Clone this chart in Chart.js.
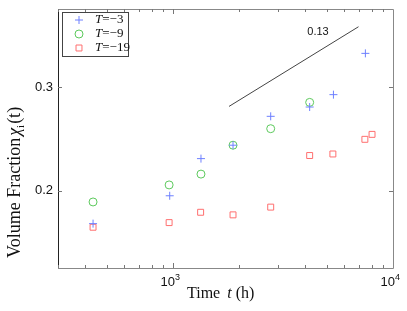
<!DOCTYPE html>
<html>
<head>
<meta charset="utf-8">
<script src="https://cdn.jsdelivr.net/npm/chart.js@4.4.0/dist/chart.umd.min.js"></script>
<style>
  html, body { margin: 0; padding: 0; background: #fff; }
  #wrap { width: 407px; height: 311px; }
</style>
</head>
<body>
<div id="wrap"><canvas id="chart" width="407" height="311"></canvas></div>
<script>
// time (h) and volume fraction
const timeA = [433, 966, 1340, 1874, 2780, 4180, 5360, 7490];
const chiA = [0.168, 0.195, 0.231, 0.244, 0.272, 0.281, 0.293, 0.333];

const timeB = [433, 960, 1340, 1874, 2780, 4180];
const chiB = [0.189, 0.2055, 0.216, 0.244, 0.260, 0.2855];

const timeC = [433, 960, 1335, 1874, 2780, 4180, 5330, 7450, 8030];
const chiC = [0.1645, 0.169, 0.179, 0.1765, 0.184, 0.234, 0.2355, 0.2497, 0.2545];

// guide line with slope label
const guideT = [1797, 6970];
const guideChi = [0.2816, 0.3588];
const guideLabel = '0.13';

const seriesNames = ['3', '9', '19'];
const yTicks = [0.2, 0.3];
const xMajor = [1000, 10000];

const blue = '#6e80ff';
const green = '#5cc95c';
const red = '#ff6f6f';

function pts(xs, ys) {
    return xs.map((x, i) => ({ x: x, y: ys[i] }));
}

const frame = {
    id: 'frame',
    afterDatasetsDraw(chart) {
        const ctx = chart.ctx;
        const a = chart.chartArea;
        const xs = chart.scales.x;
        const ys = chart.scales.y;
        const serif = '"Liberation Serif", "Times New Roman", serif';
        ctx.save();

        // box
        ctx.lineWidth = 1;
        ctx.strokeStyle = '#222';
        ctx.beginPath();
        ctx.moveTo(a.left + 0.5, a.top);
        ctx.lineTo(a.left + 0.5, a.bottom + 0.5);
        ctx.stroke();
        ctx.strokeStyle = '#888';
        ctx.beginPath();
        ctx.moveTo(a.left, a.bottom + 0.5);
        ctx.lineTo(a.right + 0.5, a.bottom + 0.5);
        ctx.lineTo(a.right + 0.5, a.top + 0.5);
        ctx.lineTo(a.left, a.top + 0.5);
        ctx.stroke();

        // log ticks on x, top and bottom
        ctx.strokeStyle = '#777';
        for (let d = 100; d < 10000; d *= 10) {
            for (let m = 1; m < 10; m++) {
                const v = d * m;
                if (v < xs.min || v > xs.max) continue;
                const px = Math.round(xs.getPixelForValue(v)) + 0.5;
                const len = m === 1 ? 5 : 3;
                ctx.beginPath();
                ctx.moveTo(px, a.bottom);
                ctx.lineTo(px, a.bottom - len);
                ctx.moveTo(px, a.top);
                ctx.lineTo(px, a.top + len);
                ctx.stroke();
            }
        }
        // y ticks, both sides
        yTicks.forEach(v => {
            const py = Math.round(ys.getPixelForValue(v)) + 0.5;
            ctx.beginPath();
            ctx.moveTo(a.left, py);
            ctx.lineTo(a.left + 4, py);
            ctx.moveTo(a.right, py);
            ctx.lineTo(a.right - 4, py);
            ctx.stroke();
        });

        ctx.fillStyle = '#111';
        // y tick labels
        ctx.font = '13px "Liberation Sans", Arial, sans-serif';
        ctx.textAlign = 'right';
        ctx.textBaseline = 'middle';
        yTicks.forEach(v => {
            ctx.fillText(v.toFixed(1), a.left - 5, ys.getPixelForValue(v));
        });
        // x tick labels 10^n
        xMajor.forEach(v => {
            const px = xs.getPixelForValue(v);
            const exp = String(Math.round(Math.log10(v)));
            ctx.font = '13px "Liberation Sans", Arial, sans-serif';
            ctx.textAlign = 'right';
            ctx.textBaseline = 'alphabetic';
            ctx.fillText('10', px + 2, a.bottom + 18);
            ctx.font = '9px "Liberation Sans", Arial, sans-serif';
            ctx.textAlign = 'left';
            ctx.fillText(exp, px + 2, a.bottom + 12);
        });

        // x title
        ctx.textBaseline = 'alphabetic';
        ctx.textAlign = 'left';
        let tx = 187;
        const ty = 298;
        ctx.font = '16px ' + serif;
        ctx.fillText('Time', tx, ty);
        tx += ctx.measureText('Time ').width + 3;
        ctx.font = 'italic 16px ' + serif;
        ctx.fillText('t', tx, ty);
        tx += ctx.measureText('t ').width;
        ctx.font = '16px ' + serif;
        ctx.fillText('(h)', tx, ty);

        // y title, rotated
        ctx.save();
        ctx.translate(20, 258);
        ctx.rotate(-Math.PI / 2);
        let yx = 0;
        ctx.font = '18px ' + serif;
        ctx.fillText('Volume Fraction', yx, 0);
        yx += ctx.measureText('Volume Fraction').width + 2;
        ctx.font = 'italic 18px ' + serif;
        ctx.fillText('\u03c7', yx, 0);
        yx += ctx.measureText('\u03c7').width;
        ctx.font = '11px ' + serif;
        ctx.fillText('i', yx, 4);
        yx += ctx.measureText('i').width + 1;
        ctx.font = '18px ' + serif;
        ctx.fillText('(t)', yx, 0);
        ctx.restore();

        // guide label
        ctx.font = '11px "Liberation Sans", Arial, sans-serif';
        ctx.textAlign = 'center';
        ctx.textBaseline = 'middle';
        ctx.fillText(guideLabel, 318, 32);

        // legend
        ctx.strokeStyle = '#444';
        ctx.lineWidth = 1;
        ctx.strokeRect(62.5, 12.5, 66, 44);
        const colors = [blue, green, red];
        const styles = ['cross', 'circle', 'rect'];
        const rows = [20, 34, 48];
        rows.forEach((ry, i) => {
            ctx.strokeStyle = colors[i];
            ctx.fillStyle = 'rgba(0,0,0,0)';
            Chart.helpers.drawPoint(ctx, {
                pointStyle: styles[i], radius: i === 2 ? 4.2 : 4, borderWidth: 1
            }, 79, ry);
        });
        ctx.fillStyle = '#111';
        ctx.textAlign = 'left';
        ctx.textBaseline = 'middle';
        rows.forEach((ry, i) => {
            let lx = 95;
            ctx.font = 'italic 13px ' + serif;
            ctx.fillText('T', lx, ry);
            lx += ctx.measureText('T').width;
            ctx.font = '13px ' + serif;
            ctx.fillText('=\u2212' + seriesNames[i], lx, ry);
        });
        ctx.restore();
    }
};

new Chart(document.getElementById('chart'), {
    type: 'scatter',
    data: {
        datasets: [
            {
                label: 'T=-3', data: pts(timeA, chiA),
                pointStyle: 'cross', radius: 4, borderColor: blue, borderWidth: 1,
                backgroundColor: 'transparent'
            },
            {
                label: 'T=-9', data: pts(timeB, chiB),
                pointStyle: 'circle', radius: 4, borderColor: green, borderWidth: 1,
                backgroundColor: 'transparent'
            },
            {
                label: 'T=-19', data: pts(timeC, chiC),
                pointStyle: 'rect', radius: 4.2, borderColor: red, borderWidth: 1,
                backgroundColor: 'transparent'
            },
            {
                type: 'line', label: 'guide', data: pts(guideT, guideChi),
                borderColor: '#444', borderWidth: 1, pointRadius: 0, fill: false
            }
        ]
    },
    options: {
        responsive: false,
        animation: false,
        layout: { padding: { left: 58, right: 14, top: 9, bottom: 43 } },
        plugins: { legend: { display: false }, tooltip: { enabled: false } },
        scales: {
            x: {
                type: 'logarithmic', min: 300, max: 10000,
                grid: { display: false }, ticks: { display: false },
                border: { display: false },
                afterFit(s) { s.height = 0; }
            },
            y: {
                min: 0.125, max: 0.376,
                grid: { display: false }, ticks: { display: false },
                border: { display: false },
                afterFit(s) { s.width = 0; }
            }
        }
    },
    plugins: [frame]
});
</script>
</body>
</html>
